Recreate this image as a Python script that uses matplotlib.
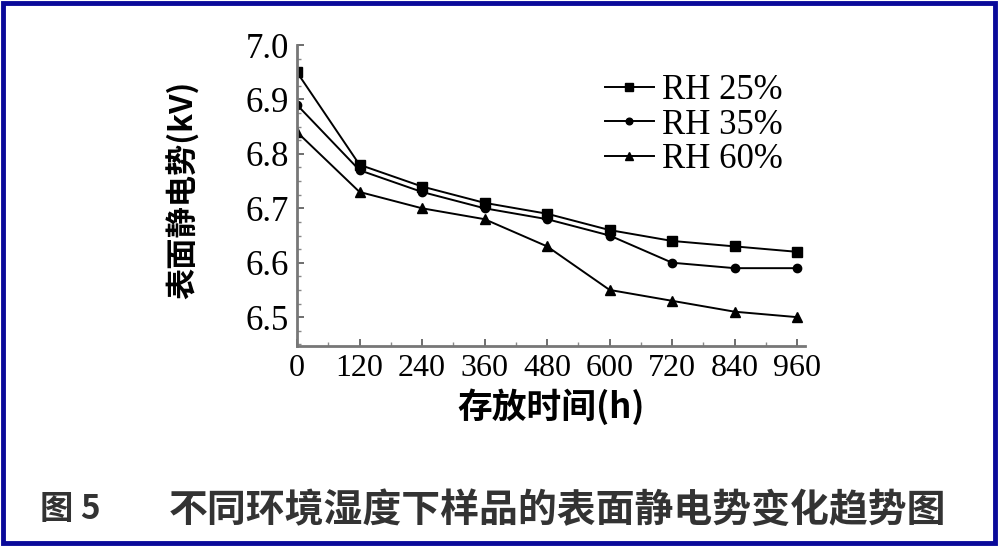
import matplotlib.pyplot as plt
from matplotlib.patches import Rectangle
from matplotlib.ticker import MultipleLocator

hours = [0, 120, 240, 360, 480, 600, 720, 840, 960]
rh25 = [6.95, 6.78, 6.74, 6.71, 6.69, 6.66, 6.64, 6.63, 6.62]
rh35 = [6.89, 6.77, 6.73, 6.70, 6.68, 6.65, 6.60, 6.59, 6.59]
rh60 = [6.84, 6.73, 6.70, 6.68, 6.63, 6.55, 6.53, 6.51, 6.50]
labels = ['RH 25%', 'RH 35%', 'RH 60%']
yticks = [6.5, 6.6, 6.7, 6.8, 6.9, 7.0]

serif = ['Liberation Serif', 'DejaVu Serif']
cjk = ['Noto Sans CJK SC', 'DejaVu Sans']

fig = plt.figure(figsize=(10, 5.46), dpi=100)
ax = fig.add_axes([0.297, 1 - 346 / 546, 0.508, (346 - 45) / 546])

ax.plot(hours, rh25, color='black', lw=1.4, marker='s', ms=6.5, label=labels[0])
ax.plot(hours, rh35, color='black', lw=1.4, marker='o', ms=6, label=labels[1])
ax.plot(hours, rh60, color='black', lw=1.4, marker='^', ms=6.5, label=labels[2])

ax.set_xlim(0, 975)
ax.set_ylim(6.447, 7.0)
ax.set_xticks(hours)
ax.set_yticks(yticks)
ax.set_yticklabels(['%.1f' % v for v in yticks])
ax.xaxis.set_minor_locator(MultipleLocator(60))
ax.yaxis.set_minor_locator(MultipleLocator(0.025))
for s in ['top', 'right']:
    ax.spines[s].set_visible(False)
for s in ['left', 'bottom']:
    ax.spines[s].set_linewidth(2)
    ax.spines[s].set_color('#777777')
ax.tick_params(direction='in', length=5, width=1.2, color='#555555', pad=6)
ax.tick_params(which='minor', direction='in', length=3, width=1, color='#888888')
for t in ax.get_xticklabels():
    t.set_family(serif)
    t.set_fontsize(23)
for t in ax.get_yticklabels():
    t.set_family(serif)
    t.set_fontsize(25)

ax.set_xlabel('存放时间(h)', family=cjk + serif, fontsize=25, fontweight='bold', labelpad=4)
ax.set_ylabel('表面静电势(kV)', family=cjk + serif, fontsize=22.5, fontweight='bold')
ax.yaxis.set_label_coords(-0.19, 0.52)

ax.legend(loc='upper left', bbox_to_anchor=(0.545, 1.008), frameon=False,
          prop={'family': serif, 'size': 25}, handlelength=1.4,
          handletextpad=0.25, labelspacing=0.05, markerscale=0.8)

fig.text(0.04, 1 - 510 / 546, '图 5', ha='left', va='center',
         family=cjk, fontsize=24, fontweight='bold', color='#333333')
fig.text(0.557, 1 - 510 / 546, '不同环境湿度下样品的表面静电势变化趋势图', ha='center', va='center',
         family=cjk, fontsize=28, fontweight='bold', color='#333333')

fig.patches.append(Rectangle((0.003, 0.006), 0.992, 0.988, transform=fig.transFigure,
                             fill=False, edgecolor='#0a0a9a', linewidth=3.5))

fig.savefig('out.png', dpi=100)
